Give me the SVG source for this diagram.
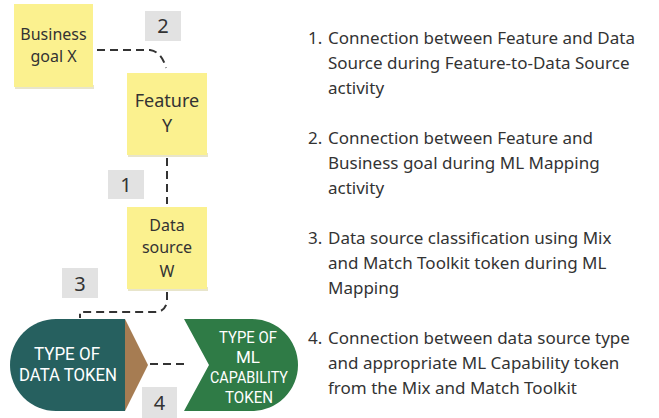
<svg xmlns="http://www.w3.org/2000/svg" width="659" height="418" viewBox="0 0 659 418">
<style>
.sticky{fill:#fbf18f;}
.shadow{fill:#d8d3a8;opacity:0.6;}
.st{font-family:"Noto Sans","Open Sans",sans-serif;font-size:16px;fill:#333;text-anchor:middle;}
.st17{font-size:18px;}
.lab{fill:#e2e2e2;}
.num{font-family:"Noto Sans","Open Sans",sans-serif;font-size:20px;fill:#333;text-anchor:middle;}
.conn{fill:none;stroke:#333;stroke-width:2;stroke-dasharray:8 5;}
.tok{font-family:"Roboto","Liberation Sans",sans-serif;font-weight:400;fill:#fff;text-anchor:middle;}
.desc{font-family:"Noto Sans","Open Sans",sans-serif;font-size:17px;fill:#333;}
</style>
<rect width="659" height="418" fill="#fff"/>
<g id="connectors">
<path class="conn" d="M97,50 H150 Q162,52 166,68"/>
<path class="conn" d="M167,158 V204"/>
<path class="conn" d="M167,292 V302 Q165,312 155,312 H80 V318"/>
<path class="conn" d="M150,364 H184"/>
</g>
<g id="business-goal">
<rect class="shadow" x="15" y="85" width="79" height="4"/>
<rect class="sticky" x="14" y="4" width="79" height="83"/>
<text class="st" x="53.5" y="40">Business</text>
<text class="st" x="53.5" y="62">goal X</text>
</g>
<g id="feature">
<rect class="shadow" x="128" y="153" width="80" height="4"/>
<rect class="sticky" x="127" y="73" width="80" height="82"/>
<text class="st st17" x="167" y="107">Feature</text>
<text class="st st17" x="167" y="132">Y</text>
</g>
<g id="data-source">
<rect class="shadow" x="128" y="287" width="80" height="4"/>
<rect class="sticky" x="127" y="207" width="80" height="82"/>
<text class="st" x="167" y="231">Data</text>
<text class="st" x="167" y="253">source</text>
<text class="st" x="167" y="277">W</text>
</g>
<g id="label-2"><rect class="lab" x="145" y="11" width="36" height="30"/><text class="num" x="163" y="33">2</text></g>
<g id="label-1"><rect class="lab" x="108" y="170" width="36" height="29"/><text class="num" x="126" y="192">1</text></g>
<g id="label-3"><rect class="lab" x="62" y="268" width="36" height="30"/><text class="num" x="80" y="291">3</text></g>
<g id="label-4"><rect class="lab" x="142" y="387" width="35" height="31"/><text class="num" x="159.5" y="410">4</text></g>
<g id="data-token">
<path d="M125,319 L148,365 L125,411 Z" fill="#a67c52"/>
<path d="M125,319 H56 A46,46 0 0 0 56,411 H125 Z" fill="#26605f"/>
<text class="tok" x="67" y="360" font-size="19" textLength="66" lengthAdjust="spacingAndGlyphs">TYPE OF</text>
<text class="tok" x="68" y="381" font-size="19" textLength="98" lengthAdjust="spacingAndGlyphs">DATA TOKEN</text>
</g>
<g id="ml-token">
<path d="M184,319 H252 A46,46 0 0 1 252,411 H184 L209,365 Z" fill="#2f7b46"/>
<text class="tok" x="248" y="343" font-size="17" textLength="58" lengthAdjust="spacingAndGlyphs">TYPE OF</text>
<text class="tok" x="248" y="363" font-size="17">ML</text>
<text class="tok" x="249" y="383" font-size="17" textLength="78" lengthAdjust="spacingAndGlyphs">CAPABILITY</text>
<text class="tok" x="249" y="403" font-size="17" textLength="48" lengthAdjust="spacingAndGlyphs">TOKEN</text>
</g>
<g id="legend">
<text class="desc" x="308" y="44">1.</text>
<text class="desc" x="328" y="44">Connection between Feature and Data</text>
<text class="desc" x="328" y="69">Source during Feature-to-Data Source</text>
<text class="desc" x="328" y="94">activity</text>
<text class="desc" x="308" y="144">2.</text>
<text class="desc" x="328" y="144">Connection between Feature and</text>
<text class="desc" x="328" y="169">Business goal during ML Mapping</text>
<text class="desc" x="328" y="194">activity</text>
<text class="desc" x="308" y="244">3.</text>
<text class="desc" x="328" y="244">Data source classification using Mix</text>
<text class="desc" x="328" y="269">and Match Toolkit token during ML</text>
<text class="desc" x="328" y="294">Mapping</text>
<text class="desc" x="308" y="344">4.</text>
<text class="desc" x="328" y="344">Connection between data source type</text>
<text class="desc" x="328" y="369">and appropriate ML Capability token</text>
<text class="desc" x="328" y="394">from the Mix and Match Toolkit</text>
</g>
</svg>
